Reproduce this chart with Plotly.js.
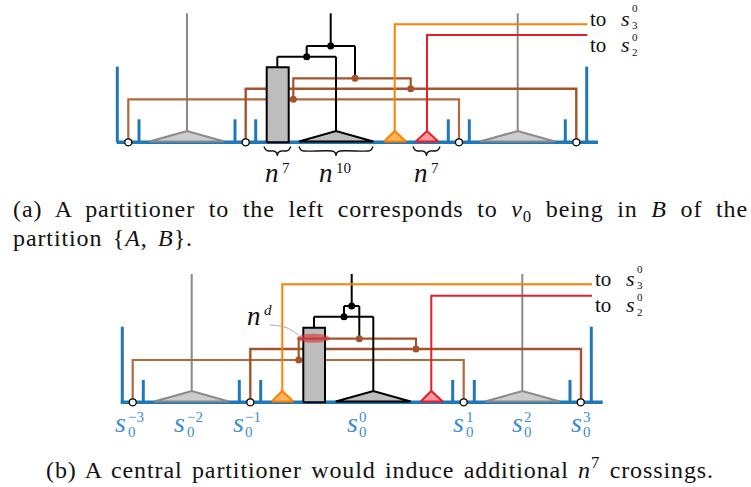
<!DOCTYPE html>
<html><head><meta charset="utf-8">
<script src="https://cdn.plot.ly/plotly-3.0.1.min.js"></script>
<style>html,body{margin:0;padding:0;background:#fff}</style>
</head><body><div id="plot" style="width:751px;height:487px"></div>
<script>
// ---------- Panel (a) geometry values ----------
const aBase = 142.3;
const aAxisX = [116.7, 598];
const aTallX = [117.3, 586.7], aTallTop = 66.7;
const aSmallX = [139, 235, 255.7, 448.3, 469.3, 565.3], aSmallTop = 119.3;
const aOpenX = [128.3, 245.7, 459, 576.3];
const aGrayTris = [[149.3, 187, 224.3], [480, 517.7, 555]];
const aApexY = 131, aStemTop = 13.3;
const aRect = [266.7, 288.7, 67.3];
const aBlackTri = [299, 336, 373.3];
const aOrangeTri = [384, 394.7, 406], aOrangeY = 24.3;
const aRedTri = [415.7, 427, 438.3], aRedY = 35;
const aWireEnd = 587.3;
const aTreeX = [336,336,null, 277.3,336,null, 277.3,277.3,null, 306.7,306.7,null, 306.7,355,null, 330.7,330.7,null, 355,355];
const aTreeY = [131,56.7,null, 56.7,56.7,null, 56.7,67.3,null, 56.7,46,null, 46,46,null, 46,13.3,null, 46,78.3];
const aTreeDotX = [306.7, 330.7], aTreeDotY = [56.7, 46];
const aBrown1X = [293.3, 293.3, 410.7, 410.7], aBrown1Y = [99.3, 78.3, 78.3, 88.7];
const aBrown2X = [245.7, 245.7, 576.3, 576.3], aBrown2Y = [142.3, 88.7, 88.7, 142.3];
const aBrown3X = [128.3, 128.3, 459, 459], aBrown3Y = [142.3, 99.3, 99.3, 142.3];
const aBrownDotX = [293.3, 410.7, 355], aBrownDotY = [99.3, 88.7, 78.3];
const aBraces = [[264, 290.7], [299, 373], [413, 440]], aBraceTop = 146.5;
const aBraceLabelX = [264, 318.3, 413.3], aBraceLabelSup = ["7", "10", "7"];

// ---------- Panel (b) geometry values ----------
const bBase = 402.3;
const bAxisX = [120.7, 602.7];
const bTallX = [122.3, 591.3], bTallTop = 326.7;
const bSmallX = [143.3, 239.3, 260.7, 452.7, 474.3, 570], bSmallTop = 380;
const bOpenX = [132.7, 250.3, 463.7, 580.7];
const bGrayTris = [[154.3, 191.7, 229], [485, 522.3, 560]];
const bApexY = 391, bStemTop = 274;
const bRect = [303.3, 325, 327.7];
const bBlackTri = [335.7, 373.3, 410.7];
const bOrangeTri = [271.7, 282.3, 293.3], bOrangeY = 284.3;
const bRedTri = [420.7, 431.3, 442.7], bRedY = 295.7;
const bWireEnd = 592;
const bTreeX = [373.3,373.3,null, 314,373.3,null, 314,314,null, 344,344,null, 344,359.3,null, 351.7,351.7,null, 359.3,359.3];
const bTreeY = [391,316.7,null, 316.7,316.7,null, 316.7,327.7,null, 316.7,306,null, 306,306,null, 306,274,null, 306,338.7];
const bTreeDotX = [344, 351.7], bTreeDotY = [316.7, 306];
const bBrown1X = [298.7, 298.7, 416, 416], bBrown1Y = [360, 338.7, 338.7, 349];
const bBrown2X = [250.3, 250.3, 581, 581], bBrown2Y = [402.3, 349, 349, 402.3];
const bBrown3X = [132.7, 132.7, 463.7, 463.7], bBrown3Y = [402.3, 360, 360, 402.3];
const bBrownDotX = [298.7, 416, 359.3], bBrownDotY = [360, 349, 338.7];
const bEllipse = [313.3, 338.3, 16.5, 4.5];
const bLeaderX = [270, 286, 298.5], bLeaderY = [325, 327.5, 335];
const blueLabelX = [115, 174, 232.7, 346.7, 453.3, 511.7, 570.7];
const blueLabelSup = ["\u22123", "\u22122", "\u22121", "0", "1", "2", "3"];
const blueLabelSub = ["0", "0", "0", "0", "0", "0", "0"];

// ---------- colours ----------
const BLUE = '#1f78b8', BLUE_TXT = '#3d8fcf', GRAY = '#8a8a8a', GRAY_FILL = '#cccccc';
const BROWN = '#a3542c', BROWN_L = '#b06a40', ORANGE = '#ff8000', ORANGE_FILL = '#ffb45e';
const RED = '#e3202a', RED_FILL = '#f59a9a', RECT_FILL = '#bdbdbd';
const SERIF = '"Liberation Serif", "DejaVu Serif", "Times New Roman", serif';

const traces = [];
function line(x, y, color, width, shape) {
  traces.push({type: 'scatter', mode: 'lines', x, y, line: {color, width, shape: shape || 'linear', smoothing: 1}, hoverinfo: 'skip'});
}
function poly(x, y, fill, stroke, width) {
  traces.push({type: 'scatter', mode: 'lines', x, y, fill: 'toself', fillcolor: fill, line: {color: stroke, width}, hoverinfo: 'skip'});
}
function dots(x, y, color, size, lineColor, lw) {
  traces.push({type: 'scatter', mode: 'markers', x, y, marker: {color, size, line: {color: lineColor || color, width: lw || 0}}, hoverinfo: 'skip'});
}
function ticksXY(xs, base, top) {
  const X = [], Y = [];
  xs.forEach(v => { X.push(v, v, null); Y.push(base, top, null); });
  return [X, Y];
}
function tri(t, base, apex, fill, stroke) {
  poly([t[0], t[1], t[2], t[0]], [base, apex, base, base], fill, stroke, 2);
}
function brace(x0, x1, top) {
  const xm = (x0 + x1) / 2, d = 4.5;
  line([x0, x0 + 2, x0 + 5, xm - 4, xm - 1, xm, xm + 1, xm + 4, x1 - 5, x1 - 2, x1],
       [top, top + 3.5, top + d, top + d, top + d + 1.5, top + 9, top + d + 1.5, top + d, top + d, top + 3.5, top],
       '#111', 1.4, 'spline');
}

function panel(P) {
  line(P.axisX, [P.base, P.base], BLUE, 3.5);
  let t = ticksXY(P.tallX, P.base, P.tallTop); line(t[0], t[1], BLUE, 3);
  t = ticksXY(P.smallX, P.base, P.smallTop); line(t[0], t[1], BLUE, 3);
  P.grayTris.forEach(g => {
    line([g[1], g[1]], [P.apexY, P.stemTop], GRAY, 2);
    tri(g, P.base - 0.8, P.apexY, GRAY_FILL, GRAY);
  });
  line(P.brown3X, P.brown3Y, BROWN_L, 2.2);
  line(P.brown2X, P.brown2Y, BROWN, 2.4);
  const r = P.rect;
  poly([r[0], r[0], r[1], r[1], r[0]], [P.base, r[2], r[2], P.base, P.base], RECT_FILL, '#000', 2);
  line(P.brown1X, P.brown1Y, BROWN, 2.2);
  line(P.treeX, P.treeY, '#000', 2);
  tri(P.blackTri, P.base - 0.8, P.apexY, RECT_FILL, '#000');
  line([P.orange[1], P.orange[1], P.wireEnd], [P.apexY, P.orangeY, P.orangeY], ORANGE, 2);
  tri(P.orange, P.base - 0.8, P.apexY, ORANGE_FILL, ORANGE);
  line([P.red[1], P.red[1], P.wireEnd], [P.apexY, P.redY, P.redY], RED, 2);
  tri(P.red, P.base - 0.8, P.apexY, RED_FILL, RED);
  dots(P.treeDotX, P.treeDotY, '#000', 7);
  dots(P.brownDotX, P.brownDotY, BROWN, 7);
  dots(P.openX, P.openX.map(() => P.base), '#fff', 7, '#000', 1.2);
}

panel({base: aBase, axisX: aAxisX, tallX: aTallX, tallTop: aTallTop, smallX: aSmallX, smallTop: aSmallTop,
  openX: aOpenX, grayTris: aGrayTris, apexY: aApexY, stemTop: aStemTop, rect: aRect, blackTri: aBlackTri,
  orange: aOrangeTri, orangeY: aOrangeY, red: aRedTri, redY: aRedY, wireEnd: aWireEnd,
  treeX: aTreeX, treeY: aTreeY, treeDotX: aTreeDotX, treeDotY: aTreeDotY,
  brown1X: aBrown1X, brown1Y: aBrown1Y, brown2X: aBrown2X, brown2Y: aBrown2Y, brown3X: aBrown3X, brown3Y: aBrown3Y,
  brownDotX: aBrownDotX, brownDotY: aBrownDotY});
panel({base: bBase, axisX: bAxisX, tallX: bTallX, tallTop: bTallTop, smallX: bSmallX, smallTop: bSmallTop,
  openX: bOpenX, grayTris: bGrayTris, apexY: bApexY, stemTop: bStemTop, rect: bRect, blackTri: bBlackTri,
  orange: bOrangeTri, orangeY: bOrangeY, red: bRedTri, redY: bRedY, wireEnd: bWireEnd,
  treeX: bTreeX, treeY: bTreeY, treeDotX: bTreeDotX, treeDotY: bTreeDotY,
  brown1X: bBrown1X, brown1Y: bBrown1Y, brown2X: bBrown2X, brown2Y: bBrown2Y, brown3X: bBrown3X, brown3Y: bBrown3Y,
  brownDotX: bBrownDotX, brownDotY: bBrownDotY});

aBraces.forEach(b => brace(b[0], b[1], aBraceTop));
line(bLeaderX, bLeaderY, '#aaaaaa', 1, 'spline');

// ---------- text ----------
const anns = [];
function ann(x, base, text, size, color) {
  anns.push({x, y: base - 0.34 * size, xref: 'x', yref: 'y', xanchor: 'left', yanchor: 'middle',
    text, showarrow: false, align: 'left', borderpad: 0, font: {family: SERIF, size, color: color || '#111'}});
}
function sLabel(x, base, supBase, subBase, sup, sub, color, size, small, gap) {
  ann(x, base, '<i>s</i>', size, color);
  ann(x + gap, supBase, sup, small, color);
  ann(x + gap, subBase, sub, small, color);
}
// "to s" wire labels
ann(589, 25.7, 'to', 21);
sLabel(619.5, 25.7, 12, 28.3, '0', '3', '#111', 22, 11, 11);
ann(589, 52.3, 'to', 21);
sLabel(619.5, 52.3, 40.5, 55.5, '0', '2', '#111', 22, 11, 11);
ann(594, 285.7, 'to', 21);
sLabel(624.5, 285.7, 272.5, 288.3, '0', '3', '#111', 22, 11, 11);
ann(594, 312.3, 'to', 21);
sLabel(624.5, 312.3, 300.5, 316, '0', '2', '#111', 22, 11, 11);
// n labels
aBraceLabelX.forEach((x, i) => {
  ann(x, 181.7, '<i>n</i>', 27);
  ann(x + 16.5, 173, aBraceLabelSup[i], 15);
});
ann(246, 325, '<i>n</i>', 27);
ann(262.5, 315.5, '<i>d</i>', 15);
// blue s labels
blueLabelX.forEach((x, i) => sLabel(x - 1, 432, 421.7, 437.5, blueLabelSup[i], blueLabelSub[i], BLUE_TXT, 28, 15, 12.5));
// captions
const capA1 = '(a) A partitioner to the left corresponds to <i>v</i><sub>0</sub> being in <i>B</i> of the';
const capA2 = 'partition {<i>A</i>, <i>B</i>}.';
const capB = '(b) A central partitioner would induce additional <i>n</i><sup>7</sup> crossings.';
ann(12, 219, capA1, 24);
ann(12, 246, capA2, 24);
ann(45, 476, capB, 24);
const capTargets = [['(a) A', 735], ['partition', 180], ['(b) A', 668]];

const layout = {
  width: 751, height: 487, margin: {l: 0, r: 0, t: 0, b: 0},
  paper_bgcolor: '#fff', plot_bgcolor: '#fff', showlegend: false,
  font: {family: SERIF},
  xaxis: {range: [0, 751], visible: false, fixedrange: true},
  yaxis: {range: [487, 0], visible: false, fixedrange: true},
  annotations: anns,
  shapes: [{type: 'circle', xref: 'x', yref: 'y', layer: 'above',
    x0: bEllipse[0] - bEllipse[2], x1: bEllipse[0] + bEllipse[2], y0: bEllipse[1] - bEllipse[3], y1: bEllipse[1] + bEllipse[3],
    fillcolor: 'rgba(215,50,55,0.6)', line: {width: 0}}]
};
Plotly.newPlot('plot', traces, layout, {staticPlot: true, displayModeBar: false}).then(() => {
  document.querySelectorAll('.annotation-text').forEach(el => {
    const txt = el.textContent || '';
    capTargets.forEach(([key, target]) => {
      if (txt.indexOf(key) === 0) {
        el.style.letterSpacing = '0.9px';
        const len = el.getComputedTextLength();
        const spaces = (txt.match(/ /g) || []).length;
        if (spaces > 0 && len < target) el.style.wordSpacing = ((target - len) / spaces) + 'px';
      }
    });
  });
});
</script></body></html>
